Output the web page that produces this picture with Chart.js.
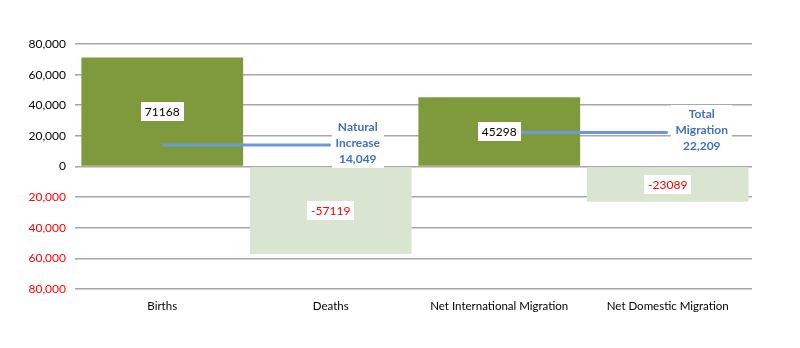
<!DOCTYPE html>
<html>
<head>
<meta charset="utf-8">
<script src="https://cdn.jsdelivr.net/npm/chart.js@4.4.1/dist/chart.umd.min.js"></script>
<style>
  html, body { margin: 0; padding: 0; background: #ffffff; }
  #wrap { width: 800px; height: 348px; }
</style>
</head>
<body>
<div id="wrap"><canvas id="c" width="800" height="348"></canvas></div>
<script>
// ---- Data ----
const categories = ['Births', 'Deaths', 'Net International Migration', 'Net Domestic Migration'];
const componentValues = [71168, -57119, 45298, -23089];
const naturalIncrease = [14049, 14049, null, null];
const totalMigration = [null, null, 22209, 22209];
const naturalIncreaseLabel = ['Natural', 'Increase', '14,049'];
const totalMigrationLabel = ['Total', 'Migration', '22,209'];
const yMin = -80000;
const yMax = 80000;
const yStep = 20000;

// ---- Styles ----
const FONT = 'Lato, "Open Sans", "Liberation Sans", sans-serif';
const POS_BAR = '#7F9A3D';
const NEG_BAR = '#D9E5D0';
const LINE_BLUE = '#6A9BD8';
const NOTE_BLUE = '#3F72C4';
const RED = '#FF0000';
const GRID = '#A8A8A8';

const labelPlugin = {
  id: 'valueLabels',
  afterDatasetsDraw(chart) {
    const ctx = chart.ctx;
    const meta = chart.getDatasetMeta(0);
    ctx.save();
    ctx.font = '12px ' + FONT;
    ctx.textAlign = 'center';
    ctx.textBaseline = 'middle';
    meta.data.forEach((el, i) => {
      const v = componentValues[i];
      const txt = String(v);
      const cx = el.x;
      const cy = (el.y + el.base) / 2;
      const w = ctx.measureText(txt).width + 8;
      const h = 19;
      ctx.fillStyle = '#ffffff';
      ctx.fillRect(Math.round(cx - w / 2), Math.round(cy - h / 2), Math.round(w), h);
      ctx.fillStyle = v < 0 ? RED : '#000000';
      ctx.fillText(txt, cx, cy + 0.5);
    });

    // annotations next to the line ends
    const notes = [
      { ds: 1, idx: 1, lines: naturalIncreaseLabel, dx: 27, boxW: 52 },
      { ds: 2, idx: 3, lines: totalMigrationLabel, dx: 34, boxW: 61 }
    ];
    ctx.font = 'bold 12px ' + FONT;
    notes.forEach(n => {
      const p = chart.getDatasetMeta(n.ds).data[n.idx];
      const cx = p.x + n.dx;
      const cy = p.y - 2;
      const lh = 16;
      const boxH = 50;
      ctx.fillStyle = '#ffffff';
      ctx.fillRect(Math.round(cx - n.boxW / 2), Math.round(cy - boxH / 2), n.boxW, boxH);
      ctx.fillStyle = NOTE_BLUE;
      n.lines.forEach((t, k) => {
        ctx.fillText(t, cx, cy + (k - 1) * lh);
      });
    });
    ctx.restore();
  }
};

new Chart(document.getElementById('c'), {
  data: {
    labels: categories,
    datasets: [
      {
        type: 'bar',
        data: componentValues,
        backgroundColor: componentValues.map(v => v < 0 ? NEG_BAR : POS_BAR),
        borderWidth: 0,
        barPercentage: 0.96,
        categoryPercentage: 1.0,
        order: 2
      },
      {
        type: 'line',
        data: naturalIncrease,
        borderColor: LINE_BLUE,
        borderWidth: 3,
        pointRadius: 0,
        spanGaps: false,
        order: 1
      },
      {
        type: 'line',
        data: totalMigration,
        borderColor: LINE_BLUE,
        borderWidth: 3,
        pointRadius: 0,
        spanGaps: false,
        order: 1
      }
    ]
  },
  options: {
    responsive: false,
    devicePixelRatio: 1,
    animation: false,
    layout: { padding: { top: 44, right: 48, left: 0, bottom: 0 } },
    plugins: { legend: { display: false }, tooltip: { enabled: false } },
    scales: {
      x: {
        type: 'category',
        offset: true,
        grid: { display: false, drawTicks: false },
        border: { display: false },
        ticks: { color: '#000000', font: { family: FONT, size: 11.5 }, padding: 10, maxRotation: 0 },
        afterFit(scale) { scale.height = 59; }
      },
      y: {
        min: yMin,
        max: yMax,
        ticks: {
          stepSize: yStep,
          padding: 9,
          font: { family: FONT, size: 12 },
          color: (c) => (c.tick && c.tick.value < 0) ? RED : '#000000',
          callback: (v) => Math.abs(v).toLocaleString('en-US')
        },
        grid: { color: GRID, lineWidth: 1.6, tickLength: 3, drawTicks: true },
        border: { display: false },
        afterFit(scale) { scale.width = 78; }
      }
    }
  },
  plugins: [labelPlugin]
});
</script>
</body>
</html>
